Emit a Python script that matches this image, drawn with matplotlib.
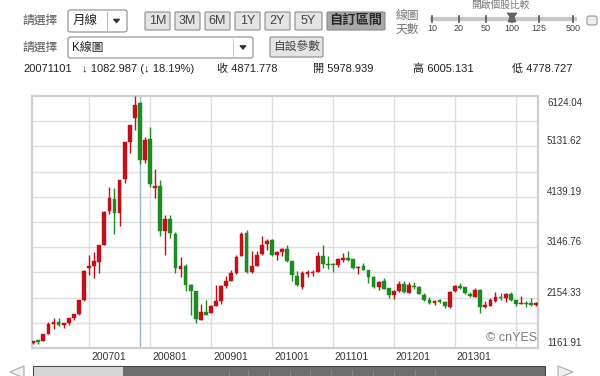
import matplotlib
matplotlib.use('Agg')
import matplotlib.pyplot as plt
from matplotlib.patches import FancyBboxPatch, Rectangle, Polygon
from matplotlib.lines import Line2D
import matplotlib.transforms as mtransforms
import numpy as np
import pandas as pd

plt.rcParams['font.family'] = ['Liberation Sans', 'Noto Sans CJK TC', 'DejaVu Sans']

# ---------------- data ----------------
start_month = '2006-02'
opens = [1258, 1300, 1300, 1445, 1641, 1672, 1612, 1658, 1753, 1839, 2100,
         2728, 2779, 2852, 3196, 3850, 4100, 3821, 4489, 5220, 5683, 5979, 4868,
         5273, 4320, 4349, 3467, 3700, 3400, 2720, 2770, 2400, 2294, 1719, 1878,
         1849, 1990, 2083, 2380, 2478, 2632, 2967, 3427, 2667, 2780, 3012, 3200,
         3289, 2985, 3052, 3109, 2866, 2580, 2369, 2636, 2645, 2656, 2978, 2822,
         2825, 2799, 2901, 2930, 2910, 2741, 2767, 2703, 2562, 2360, 2473, 2340,
         2213, 2292, 2420, 2253, 2397, 2372, 2212, 2107, 2039, 2103, 2074, 1970,
         2289, 2389, 2362, 2233, 2175, 2298, 1988, 1995, 2089, 2175, 2143, 2225,
         2112, 2043, 2057, 2033, 2026]
highs = [1306, 1305, 1445, 1683, 1757, 1745, 1662, 1757, 1841, 2112, 2698,
         2994, 3049, 3185, 3861, 4336, 4312, 4475, 5220, 5561, 6124, 6005, 5318,
         5523, 4695, 4473, 3787, 3786, 3444, 2953, 2818, 2424, 2294, 2027, 2100,
         2012, 2403, 2403, 2580, 2690, 3000, 3455, 3479, 3068, 3081, 3361, 3310,
         3306, 3080, 3138, 3181, 2868, 2673, 2678, 2706, 2704, 3054, 3186, 2971,
         2840, 2938, 3024, 3067, 2917, 2776, 2827, 2707, 2574, 2481, 2536, 2346,
         2308, 2479, 2478, 2454, 2461, 2384, 2238, 2163, 2105, 2125, 2087, 2277,
         2394, 2444, 2370, 2268, 2334, 2314, 2092, 2144, 2270, 2242, 2244, 2260,
         2112, 2177, 2080, 2147, 2070]
lows = [1235, 1250, 1296, 1440, 1541, 1592, 1548, 1617, 1718, 1820, 2095,
        2605, 2541, 2636, 3196, 3799, 3404, 3563, 4412, 5000, 5462, 4779, 4812,
        4331, 4123, 3358, 2991, 3334, 2635, 2567, 2284, 1802, 1664, 1708, 1814,
        1844, 1988, 2037, 2341, 2472, 2622, 2965, 2640, 2640, 2780, 2991, 3090,
        2964, 2890, 2977, 2856, 2482, 2383, 2320, 2553, 2574, 2656, 2744, 2722,
        2661, 2763, 2861, 2880, 2727, 2610, 2697, 2437, 2336, 2308, 2319, 2149,
        2132, 2268, 2242, 2243, 2327, 2223, 2078, 2028, 1999, 2050, 1959, 1949,
        2265, 2318, 2218, 2161, 2166, 1849, 1951, 1987, 2066, 2114, 2070, 2085,
        1985, 2022, 1974, 1998, 1991]
closes = [1299, 1298, 1440, 1641, 1672, 1613, 1659, 1752, 1838, 2099, 2675,
          2786, 2881, 3184, 3841, 4110, 3821, 4471, 5219, 5552, 5955, 4872, 5262,
          4383, 4349, 3473, 3693, 3433, 2736, 2776, 2397, 2294, 1729, 1871, 1821,
          1991, 2083, 2373, 2478, 2633, 2959, 3412, 2668, 2779, 2996, 3195, 3277,
          2989, 3052, 3109, 2871, 2592, 2398, 2638, 2639, 2656, 2979, 2820, 2808,
          2791, 2905, 2928, 2912, 2743, 2762, 2702, 2567, 2359, 2468, 2333, 2199,
          2293, 2428, 2263, 2396, 2372, 2225, 2104, 2048, 2086, 2069, 1980, 2269,
          2385, 2366, 2237, 2178, 2301, 1979, 1994, 2098, 2175, 2142, 2221, 2116,
          2033, 2056, 2033, 2026, 2039]
x_tick_labels = ['200701', '200801', '200901', '201001', '201101', '201201', '201301']
y_tick_values = [6124.04, 5131.62, 4139.19, 3146.76, 2154.33, 1161.91]
selected_month = '2007-11'
info_date = '20071101'
info_change = '1082.987'
info_pct = '18.19%'
info_close = '4871.778'
info_open = '5978.939'
info_high = '6005.131'
info_low = '4778.727'
range_buttons = ['1M', '3M', '6M', '1Y', '2Y', '5Y', '自訂區間']
slider_labels = ['10', '20', '50', '100', '125', '500']

# ---------------- figure ----------------
W, H = 600, 376
fig = plt.figure(figsize=(6, 3.76), dpi=100)
fig.patch.set_facecolor('white')

def fx(x):
    return x / W

def fy(y):
    return 1 - y / H

def box(x0, y0, x1, y1, face, edge, lw=0.8, rounding=2.0):
    p = FancyBboxPatch((fx(x0), fy(y1)), fx(x1) - fx(x0), fy(y0) - fy(y1),
                       boxstyle=f"round,pad=0,rounding_size={rounding/W}",
                       transform=fig.transFigure, facecolor=face, edgecolor=edge,
                       linewidth=lw, zorder=2)
    fig.add_artist(p)

def tri(cx, cy, size, color):
    pts = [(cx - size, cy - size * 0.6), (cx + size, cy - size * 0.6), (cx, cy + size * 0.6)]
    p = Polygon([(fx(a), fy(b)) for a, b in pts], closed=True, transform=fig.transFigure,
                facecolor=color, edgecolor=color, lw=0.8, zorder=3)
    fig.add_artist(p)

# Row 1
fig.text(fx(22), fy(21), '請選擇', fontsize=8.5, va='center', color='#555555')
box(68, 10, 127, 32, 'white', '#8a8a8a', rounding=3)
fig.text(fx(73), fy(21), '月線', fontsize=9, va='center', color='#222222')
fig.add_artist(Line2D([fx(107), fx(107)], [fy(12), fy(30)], color='#bbbbbb', lw=0.8,
                      transform=fig.transFigure))
tri(116.5, 21, 3, '#333333')

btn_x = [(145, 170), (175, 200), (205, 230), (235, 260), (265, 290), (295, 322), (327, 385)]
for lab, (a, b) in zip(range_buttons, btn_x):
    selected = lab == '自訂區間'
    box(a, 12, b, 30, '#a9a9a9' if selected else '#e4e4e4', '#8c8c8c', rounding=1.5)
    fig.text(fx((a + b) / 2), fy(21), lab, fontsize=9 if not selected else 9.5,
             ha='center', va='center', color='#2a2a2a' if selected else '#444444',
             fontweight='bold' if selected else 'normal')

fig.text(fx(396), fy(16), '線圖', fontsize=8.5, va='center', color='#777777')
fig.text(fx(396), fy(30), '天數', fontsize=8.5, va='center', color='#777777')
fig.text(fx(500), fy(4.5), '開啟個股比較', fontsize=7, ha='center', va='center', color='#777777')
fig.add_artist(Line2D([fx(430), fx(577)], [fy(19), fy(19)], color='#c8c8c8', lw=3,
                      transform=fig.transFigure, solid_capstyle='butt'))
slider_x = [432, 459, 486, 512, 539, 573]
for lab, sx in zip(slider_labels, slider_x):
    fig.add_artist(Line2D([fx(sx), fx(sx)], [fy(16), fy(22)], color='#555555', lw=1.2,
                          transform=fig.transFigure))
    fig.text(fx(sx), fy(28.5), lab, fontsize=6.5, ha='center', va='center', color='#444444')
handle = Polygon([(fx(507), fy(13)), (fx(517), fy(13)), (fx(514), fy(17)), (fx(516), fy(22)),
                  (fx(508), fy(22)), (fx(510), fy(17))], closed=True, transform=fig.transFigure,
                 facecolor='#666666', edgecolor='#555555', lw=0.5, zorder=4)
fig.add_artist(handle)
fig.add_artist(FancyBboxPatch((fx(587), fy(25)), 10 / W, 9 / H, boxstyle="round,pad=0,rounding_size=0.005",
                              transform=fig.transFigure, facecolor='#eeeeee', edgecolor='#999999', lw=0.8))

# Row 2
fig.text(fx(22), fy(48), '請選擇', fontsize=8.5, va='center', color='#555555')
box(68, 37, 253, 58, 'white', '#8a8a8a', rounding=3)
fig.text(fx(72), fy(47.5), 'K線圖', fontsize=8.5, va='center', color='#222222')
fig.add_artist(Line2D([fx(233), fx(233)], [fy(39), fy(56)], color='#cccccc', lw=0.8,
                      transform=fig.transFigure))
tri(243, 47.5, 3, '#333333')
box(270, 37, 323, 57, '#e4e4e4', '#8c8c8c', rounding=1.5)
fig.text(fx(296.5), fy(47), '自設參數', fontsize=8.5, ha='center', va='center', color='#444444')

# Row 3
ry = 69
fs3 = 8
fig.text(fx(23), fy(ry), info_date, fontsize=fs3, va='center', color='#222222')
fig.text(fx(82), fy(ry), f'↓ {info_change} (↓ {info_pct})', fontsize=fs3, va='center', color='#222222')
fig.text(fx(217), fy(ry), f'收 {info_close}', fontsize=fs3, va='center', color='#222222')
fig.text(fx(313), fy(ry), f'開 {info_open}', fontsize=fs3, va='center', color='#222222')
fig.text(fx(413), fy(ry), f'高 {info_high}', fontsize=fs3, va='center', color='#222222')
fig.text(fx(512), fy(ry), f'低 {info_low}', fontsize=fs3, va='center', color='#222222')

# ---------------- chart ----------------
ax_l, ax_r, ax_t, ax_b = 32, 538, 96, 348
ax = fig.add_axes([fx(ax_l), fy(ax_b), (ax_r - ax_l) / W, (ax_b - ax_t) / H])

months = pd.period_range(start_month, periods=len(closes), freq='M')
xi = np.arange(len(closes))
o = np.array(opens, float)
h = np.array(highs, float)
l = np.array(lows, float)
c = np.array(closes, float)

ymin, ymax = min(y_tick_values), max(y_tick_values)
dpp = (ymax - ymin) / (ax_b - ax_t)  # data units per pixel

up = c >= o
red, green = '#bf111b', '#1e8a22'
colors = np.where(up, red, green)
ax.vlines(xi, l, h, colors=colors, lw=1.0, zorder=3)
body_bottom = np.minimum(o, c)
small = np.abs(c - o) < 1.3 * dpp
body_h = np.maximum(np.abs(c - o), 1.3 * dpp)
ax.bar(xi, body_h, bottom=body_bottom - np.where(small, 0.65 * dpp, 0),
       width=0.74, color=colors, edgecolor=colors, lw=0.3, zorder=4)

px_per_month = 5.08
x_left = (ax_l - 33.2) / px_per_month
x_right = (ax_r - 33.2) / px_per_month
ax.set_xlim(x_left, x_right)
ax.set_ylim(ymin, ymax)

# grids
grid_col = '#dedede'
for k in range(1, 10):
    ax.axhline(ymin + k * (ymax - ymin) / 10, color=grid_col, lw=1.0, zorder=1)
jan_idx = [i for i, m in enumerate(months) if m.month == 1]
for i in jan_idx:
    ax.axvline(i, color=grid_col, lw=1.0, zorder=1)
sel_idx = [i for i, m in enumerate(months) if str(m) == selected_month][0]
ax.axvline(sel_idx, color='#8fb8d8', lw=1.0, zorder=2)

ax.set_xticks([])
ax.set_yticks([])
for s in ax.spines.values():
    s.set_color('#cfcfcf')
    s.set_linewidth(1.6)

# x labels (left aligned at gridlines)
for i, lab in zip(jan_idx, x_tick_labels):
    ax.text(i + 2 / px_per_month, ymin - 9 * dpp, lab, fontsize=7.5, ha='left', va='center',
            color='#333333', clip_on=False)

# y labels
trans = mtransforms.blended_transform_factory(ax.transAxes, ax.transData)
for v in y_tick_values:
    yy = min(v + 5 * dpp, ymax - 7 * dpp)
    ax.text((547 - ax_l) / (ax_r - ax_l), yy, f'{v:.2f}', transform=trans, fontsize=7,
            ha='left', va='center', color='#333333', clip_on=False)

ax.text(0.998, 0.04, '© cnYES', transform=ax.transAxes, fontsize=9, ha='right', va='center',
        color='#7a7a7a', zorder=5)

# ---------------- scrollbar ----------------
fig.add_artist(Rectangle((fx(33), fy(378)), 512 / W, 12 / H, transform=fig.transFigure,
                         facecolor='#6e6e6e', edgecolor='#4a4a4a', lw=0.8))
fig.add_artist(Rectangle((fx(34), fy(377)), 89 / W, 10 / H, transform=fig.transFigure,
                         facecolor='#d6d6d6', edgecolor='none'))
for sx in [229, 248, 269, 290, 310, 331, 352, 373, 394, 415, 435]:
    fig.add_artist(Line2D([fx(sx), fx(sx)], [fy(370), fy(377)], color='#8a8a8a', lw=0.6,
                          transform=fig.transFigure))
fig.add_artist(Polygon([(fx(24), fy(366)), (fx(24), fy(378)), (fx(10), fy(372))], closed=True,
                       transform=fig.transFigure, facecolor='#f0f0f0', edgecolor='#aaaaaa', lw=0.8))
fig.add_artist(Polygon([(fx(558), fy(366)), (fx(558), fy(378)), (fx(573), fy(372))], closed=True,
                       transform=fig.transFigure, facecolor='#f0f0f0', edgecolor='#aaaaaa', lw=0.8))

fig.savefig('out.png', dpi=100)
